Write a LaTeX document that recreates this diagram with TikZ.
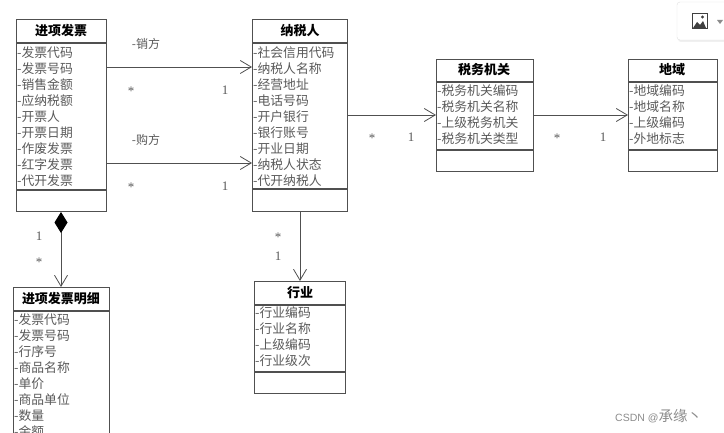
\documentclass[tikz,border=0pt]{standalone}
\usepackage{fontspec}
\setmainfont{Noto Sans CJK SC}
\newfontfamily\latser{Liberation Serif}
\newfontfamily\latsans{Liberation Sans}
\usetikzlibrary{arrows.meta,calc}
\definecolor{lineg}{HTML}{505050}
\definecolor{txtg}{HTML}{5A5A5A}
\tikzset{
  clsbox/.style={draw=lineg, line width=1pt, fill=white, inner sep=0pt, anchor=north west},
  sepline/.style={draw=lineg, line width=1.2pt},
  ctitle/.style={font=\bfseries\fontsize{13}{15}\selectfont, text=black, inner sep=0pt},
  attr/.style={font=\fontsize{12.8}{14}\selectfont, text=txtg, inner sep=0pt, anchor=west},
  rolel/.style={font=\fontsize{12}{14}\selectfont, text=txtg, inner sep=0pt},
  mult/.style={font=\latser\fontsize{13}{15}\selectfont, text=txtg, inner sep=0pt},
  assoc/.style={draw=lineg, line width=0.8pt, -{Straight Barb[length=11pt,width=13pt,line width=0.8pt]}},
  compo/.style={draw=lineg, line width=0.8pt, {Diamond[length=21pt,width=13pt,fill=black,color=black]}-{Straight Barb[length=11pt,width=13pt,line width=0.8pt]}},
}
\newcommand{\attrlist}[4]{% name, x, y0, list
  \foreach \t [count=\i] in {#4}{
    \node[attr] (#1-a\i) at (#2, #3+16*\i-16) {-\t};
  }
}
\begin{document}
\begin{tikzpicture}[x=1pt,y=-1pt]
\useasboundingbox (0,0) rectangle (724,433);
\clip (0,0) rectangle (724,433);
\fill[white] (0,0) rectangle (724,433);

% 进项发票
\node[clsbox, minimum width=90pt, minimum height=192pt] (inv) at (16,19) {};
\draw[sepline] (16,43) -- (106,43);
\draw[sepline] (16,190) -- (106,190);
\node[ctitle] (inv-t) at (61,31) {进项发票};
\attrlist{inv}{17}{53}{发票代码,发票号码,销售金额,应纳税额,开票人,开票日期,作废发票,红字发票,代开发票}

% 纳税人
\node[clsbox, minimum width=95pt, minimum height=192pt] (tp) at (252,19) {};
\draw[sepline] (252,43) -- (347,43);
\draw[sepline] (252,189) -- (347,189);
\node[ctitle] (tp-t) at (300,31) {纳税人};
\attrlist{tp}{253}{53}{社会信用代码,纳税人名称,经营地址,电话号码,开户银行,银行账号,开业日期,纳税人状态,代开纳税人}

% 税务机关
\node[clsbox, minimum width=97pt, minimum height=112pt] (ta) at (436,59) {};
\draw[sepline] (436,82) -- (533,82);
\draw[sepline] (436,150) -- (533,150);
\node[ctitle] (ta-t) at (484,70) {税务机关};
\attrlist{ta}{437}{91}{税务机关编码,税务机关名称,上级税务机关,税务机关类型}

% 地域
\node[clsbox, minimum width=89pt, minimum height=112pt] (rg) at (628,59) {};
\draw[sepline] (628,82) -- (717,82);
\draw[sepline] (628,150) -- (717,150);
\node[ctitle] (rg-t) at (672,70) {地域};
\attrlist{rg}{629}{91}{地域编码,地域名称,上级编码,外地标志}

% 进项发票明细
\node[clsbox, minimum width=96pt, minimum height=200pt] (det) at (13,287) {};
\draw[sepline] (13,311) -- (109,311);
\node[ctitle] (det-t) at (61,299) {进项发票明细};
\attrlist{det}{14}{320}{发票代码,发票号码,行序号,商品名称,单价,商品单位,数量,金额}

% 行业
\node[clsbox, minimum width=91pt, minimum height=112pt] (ind) at (254,281) {};
\draw[sepline] (254,305) -- (345,305);
\draw[sepline] (254,372) -- (345,372);
\node[ctitle] (ind-t) at (300,293) {行业};
\attrlist{ind}{255}{313}{行业编码,行业名称,上级编码,行业级次}

% connectors
\draw[assoc] (inv.east |- 0,67) -- (tp.west |- 0,67);
\draw[assoc] (inv.east |- 0,163) -- (tp.west |- 0,163);
\draw[assoc] (tp.east |- 0,115) -- (ta.west |- 0,115);
\draw[assoc] (ta.east |- 0,115) -- (rg.west |- 0,115);
\draw[compo] (inv.south -| 61,0) -- (det.north -| 61,0);
\draw[assoc] (tp.south -| 300,0) -- (ind.north -| 300,0);

% labels
\node[rolel] (l1) at (146,44) {-销方};
\node[rolel] (l2) at (146,140) {-购方};
\node[mult] (m1) at (131,91) {*};
\node[mult] (m2) at (225,90) {1};
\node[mult] (m3) at (131,187) {*};
\node[mult] (m4) at (225,186) {1};
\node[mult] (m5) at (372,138) {*};
\node[mult] (m6) at (411,137) {1};
\node[mult] (m7) at (557,138) {*};
\node[mult] (m8) at (603,137) {1};
\node[mult] (m9) at (39,236) {1};
\node[mult] (m10) at (39,262) {*};
\node[mult] (m11) at (278,237) {*};
\node[mult] (m12) at (278,256) {1};

% top-right toolbar button
\fill[black!6, rounded corners=3pt] (678,3.5) rectangle (734,42);
\draw[draw=black!12, fill=white, rounded corners=3pt] (677,2) rectangle (734,40);
\node[inner sep=0pt, minimum width=15pt, minimum height=15pt, draw=black!75, fill=white, line width=1pt] (img) at (699.5,21.5) {};
\fill[black!75] (693,28) -- (697,22) -- (700,25) -- (703,21) -- (706,28) -- cycle;
\fill[black!75] (702.5,17) circle (1.6pt);
\fill[black!45] (717,20) -- (723,20) -- (720,24) -- cycle;

% watermark
\node[text=black!45, anchor=west, inner sep=0pt] (wm) at (615,416) {{\latsans\fontsize{10.5}{13}\selectfont CSDN @}{\fontsize{14.5}{16}\selectfont 承缘丶}};
\end{tikzpicture}
\end{document}
